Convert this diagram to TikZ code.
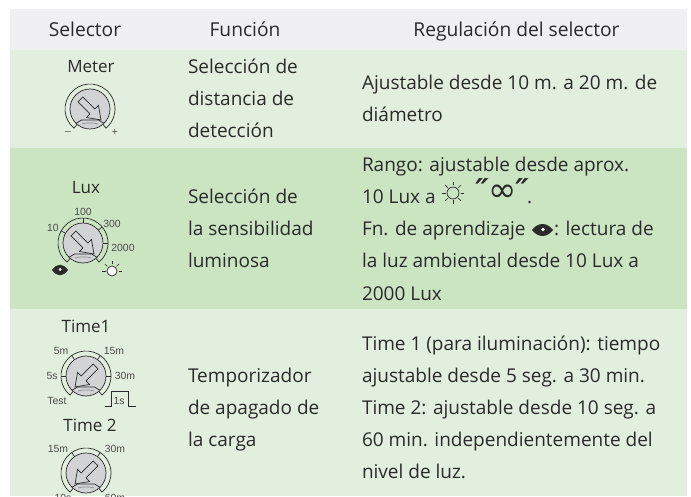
\documentclass[tikz,border=0pt]{standalone}
\usepackage{fontspec}
\setmainfont{Open Sans}
\newfontfamily\symfont{DejaVu Sans}
\newfontfamily\tickfont{Liberation Sans}
\definecolor{hdr}{HTML}{F0F0F2}
\definecolor{rowa}{HTML}{E3EFDE}
\definecolor{rowb}{HTML}{CBE5C3}
\definecolor{ink}{HTML}{2A2A2A}
\definecolor{knob}{HTML}{D2D3D5}
\tikzset{
  cell/.style={inner sep=0pt,outer sep=0pt,anchor=base west,text=ink,font=\fontsize{19}{24}\selectfont},
  head/.style={inner sep=0pt,anchor=base,text=ink,font=\fontsize{19.2}{24}\selectfont},
  dial/.style={inner sep=0pt,anchor=base,text=ink,font=\fontsize{17}{20}\selectfont},
  tick/.style={inner sep=0pt,text=ink!85,font=\tickfont\fontsize{10.4}{12}\selectfont},
  knobline/.style={draw=ink,line width=.7pt},
  quotemark/.style={inner sep=0pt,anchor=base,text=ink,font=\symfont\bfseries\itshape\fontsize{30}{30}\selectfont},
}
% #1 centre, #2 rotation
\newcommand{\dialknob}[2]{%
  \begin{scope}[shift={#1},yscale=-1]
    \draw[knobline] (230:20) -- (230:25) arc[start angle=230,end angle=-50,radius=25] -- (-50:20);
    \draw[knobline,fill=knob] (0,0) circle (20);
    \draw[knobline] (-14,-14.3) -- (-8.5,-11) -- (8.5,-11) -- (14,-14.3);
    \draw[knobline,draw=ink!55] (-8,-15) .. controls (-4,-13.5) and (4,-13.5) .. (8,-15);
    \begin{scope}[rotate=#2]
      \draw[knobline,line join=miter] (-13.5,3.5) -- (3.5,3.5) -- (3.5,8.5) -- (15.5,0) -- (3.5,-8.5) -- (3.5,-3.5) -- (-13.5,-3.5) -- cycle;
    \end{scope}
  \end{scope}}
\newcommand{\dialtick}[2]{\draw[knobline] #1 ++(-#2:20) -- ++(-#2:5);}
\begin{document}
\begin{tikzpicture}[x=1pt,y=-1pt]
\useasboundingbox (0,0) rectangle (691,497);
\fill[white] (0,0) rectangle (691,497);
\fill[hdr] (10,9) rectangle (687,50);
\fill[rowa] (10,50) rectangle (687,148);
\fill[rowb] (10,148) rectangle (687,309);
\fill[rowa] (10,309) rectangle (687,496);
\clip (0,0) rectangle (691,497);
\node[head] (h1) at (85,37) {Selector};
\node[head] (h2) at (245,37) {Función};
\node[head] (h3) at (516.5,37) {Regulación del selector};

\node[cell] (f1a) at (188,74) {Selección de};
\node[cell] (f1b) at (188,106) {distancia de};
\node[cell] (f1c) at (188,138) {detección};
\node[cell] (r1a) at (362,90) {Ajustable desde 10 m. a 20 m. de};
\node[cell] (r1b) at (362,122) {diámetro};

\node[cell] (f2a) at (188,204) {Selección de};
\node[cell] (f2b) at (188,236) {la sensibilidad};
\node[cell] (f2c) at (188,268) {luminosa};
\node[cell] (r2a) at (362,172) {Rango: ajustable desde aprox.};
\node[cell] (r2b) at (362,204) {10 Lux a};
\node[cell] (r2c) at (362,236) {Fn. de aprendizaje};
\node[cell] (r2d) at (554,236) {: lectura de};
\node[cell] (r2e) at (362,268) {la luz ambiental desde 10 Lux a};
\node[cell] (r2f) at (362,300) {2000 Lux};
\node[inner sep=0pt,text=ink,font=\symfont\fontsize{34}{34}\selectfont] (inf) at (503,193) {∞};
\node[quotemark] (q1) at (482,201) {″};
\node[quotemark] (q2) at (522,201) {″};
\node[cell] (dot) at (527,204) {.};

\node[cell] (f3a) at (188,382) {Temporizador};
\node[cell] (f3b) at (188,414) {de apagado de};
\node[cell] (f3c) at (188,446) {la carga};
\node[cell] (r3a) at (362,350) {Time 1 (para iluminación): tiempo};
\node[cell] (r3b) at (362,382) {ajustable desde 5 seg. a 30 min.};
\node[cell] (r3c) at (362,414) {Time 2: ajustable desde 10 seg. a};
\node[cell] (r3d) at (362,446) {60 min. independientemente del};
\node[cell] (r3e) at (362,478) {nivel de luz.};

% Meter
\node[dial] (meter) at (91,73) {Meter};
\dialknob{(90,109)}{45}
\node[tick] (minus) at (68,133) {–};
\node[tick] (plus) at (115,133) {+};

% Lux
\node[dial] (lux) at (86,194) {Lux};
\dialknob{(83,243)}{45}
\dialtick{(83,243)}{90}
\dialtick{(83,243)}{151}
\dialtick{(83,243)}{40}
\dialtick{(83,243)}{0}
\node[tick] (l100) at (83,212) {100};
\node[tick] (l10) at (53,228) {10};
\node[tick] (l300) at (112,224) {300};
\node[tick] (l2000) at (123,248) {2000};

% Time 1
\node[dial] (t1) at (86,332) {Time1};
\dialknob{(86,376)}{135}
\dialtick{(86,376)}{180}
\dialtick{(86,376)}{0}
\dialtick{(86,376)}{125}
\dialtick{(86,376)}{55}
\node[tick] (a5m) at (61,351) {5m};
\node[tick] (a15m) at (114,351) {15m};
\node[tick] (a5s) at (52,376) {5s};
\node[tick] (a30m) at (125,376) {30m};
\node[tick] (atest) at (57,401) {Test};
\node[tick] (a1s) at (119,401) {1s};
\draw[knobline] (105,406) -- (111,406) -- (111,391) -- (128,391) -- (128,406) -- (136,406);

% Time 2
\node[dial] (t2) at (90,431) {Time 2};
\dialknob{(86,473)}{135}
\dialtick{(86,473)}{125}
\dialtick{(86,473)}{55}
\node[tick] (b15m) at (58,449) {15m};
\node[tick] (b30m) at (115,449) {30m};
\node[tick] (b10s) at (63,497.5) {10s};
\node[tick] (b60m) at (115,497.5) {60m};

% eye and sun beside the Lux dial
\fill[ink] (52,270) .. controls (57,263) and (63,263) .. (68,270) .. controls (63,277) and (57,277) .. (52,270) -- cycle;
\fill[white] (60,269.5) circle (1.5);
\draw[knobline,fill=white] (112,271) circle (5);
\foreach \a in {180,225,270,315,0} \draw[knobline] (112,271) ++(\a:6.5) -- ++(\a:3.5);
% sun and eye in the text
\draw[knobline] (453,193) circle (6);
\foreach \a in {0,45,...,315} \draw[knobline] (453,193) ++(\a:7.5) -- ++(\a:3.5);
\fill[ink] (532,230) .. controls (538,222) and (547,222) .. (553,230) .. controls (547,238) and (538,238) .. (532,230) -- cycle;
\fill[white] (543,229.5) circle (1.9);
\end{tikzpicture}
\end{document}
